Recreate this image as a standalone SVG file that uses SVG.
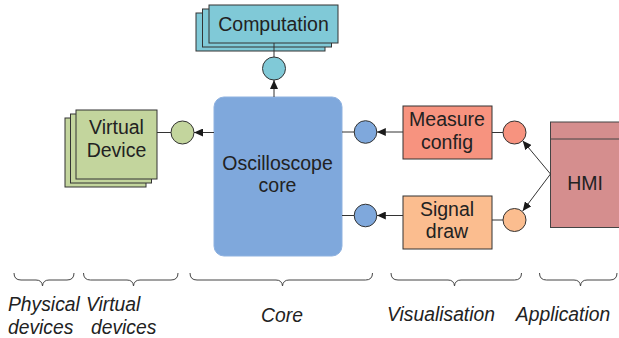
<svg xmlns="http://www.w3.org/2000/svg" width="619" height="338" viewBox="0 0 619 338">
<defs>
<marker id="ah" markerWidth="9" markerHeight="8" refX="9" refY="4" orient="auto" markerUnits="userSpaceOnUse">
<path d="M0,0 L9,4 L0,8 z" fill="#1a1a1a"/>
</marker>
<style>
.box{stroke:#333;stroke-width:1}
.lbl{font-family:"Liberation Sans",Arial,sans-serif;font-size:19.5px;fill:#222;text-anchor:middle}
.cap{font-family:"Liberation Sans",Arial,sans-serif;font-size:19.3px;font-style:italic;fill:#222}
.ln{stroke:#333;stroke-width:1;fill:none}
.br{stroke:#444;stroke-width:1;fill:none}
.cy{fill:#80c9d7}
.gr{fill:#c3d59d}
.bl{fill:#7fa8dc}
.rd{fill:#f7937f}
.or{fill:#fbbd8f}
</style>
</defs>
<rect width="619" height="338" fill="#fff"/>

<g id="computation">
<rect class="box cy" x="196" y="13" width="129" height="38"/>
<rect class="box cy" x="202.5" y="9" width="129" height="38"/>
<rect class="box cy" x="209" y="5" width="129" height="38"/>
<text class="lbl" x="273.5" y="31" font-size="20">Computation</text>
</g>
<g id="computation-port"><circle class="box cy" cx="274" cy="68.5" r="11.5"/></g>

<g id="virtual-device">
<rect class="box gr" x="65" y="118" width="81" height="69"/>
<rect class="box gr" x="70.5" y="114" width="81" height="69"/>
<rect class="box gr" x="76" y="110" width="81" height="69"/>
<text class="lbl" x="116.5" y="134">Virtual</text>
<text class="lbl" x="116.5" y="157">Device</text>
</g>
<g id="virtual-port"><circle class="box gr" cx="182.5" cy="132.5" r="11.5"/></g>

<g id="core">
<rect x="214" y="97" width="128" height="159" rx="10" ry="10" fill="#7fa8dc" stroke="#8fb2e0" stroke-width="1"/>
<text class="lbl" x="277.5" y="170">Oscilloscope</text>
<text class="lbl" x="277.5" y="192">core</text>
</g>
<g id="core-port-1"><circle class="box bl" cx="365.5" cy="132" r="11.3"/></g>
<g id="core-port-2"><circle class="box bl" cx="365.5" cy="215.5" r="11.3"/></g>

<g id="measure-config">
<rect class="box rd" x="403" y="106" width="89" height="53"/>
<text class="lbl" x="447" y="126">Measure</text>
<text class="lbl" x="447" y="148.5">config</text>
</g>
<g id="measure-port"><circle class="box rd" cx="514.5" cy="132.5" r="11.5"/></g>

<g id="signal-draw">
<rect class="box or" x="403" y="196" width="89" height="53"/>
<text class="lbl" x="447" y="215.5">Signal</text>
<text class="lbl" x="447" y="238">draw</text>
</g>
<g id="signal-port"><circle class="box or" cx="514.5" cy="220" r="11.5"/></g>

<g id="hmi">
<rect x="550.5" y="122" width="80" height="105.5" fill="#d58e8e" stroke="#444" stroke-width="1"/>
<line x1="550.5" y1="139" x2="619" y2="139" stroke="#444" stroke-width="1"/>
<text class="lbl" x="585" y="189.5" font-size="17.5">HMI</text>
</g>

<g id="connectors">
<line class="ln" x1="274" y1="43" x2="274" y2="57"/>
<line class="ln" x1="274" y1="97" x2="274" y2="80" marker-end="url(#ah)"/>
<line class="ln" x1="157" y1="132.5" x2="171" y2="132.5"/>
<line class="ln" x1="214" y1="132.5" x2="194" y2="132.5" marker-end="url(#ah)"/>
<line class="ln" x1="342" y1="132" x2="354.2" y2="132"/>
<line class="ln" x1="403" y1="132" x2="376.8" y2="132" marker-end="url(#ah)"/>
<line class="ln" x1="342" y1="215.5" x2="354.2" y2="215.5"/>
<line class="ln" x1="403" y1="215.5" x2="376.8" y2="215.5" marker-end="url(#ah)"/>
<line class="ln" x1="492" y1="132.5" x2="503" y2="132.5"/>
<line class="ln" x1="492" y1="220" x2="503" y2="220"/>
<line class="ln" x1="550.5" y1="174" x2="522.7" y2="140.7" marker-end="url(#ah)"/>
<line class="ln" x1="550.5" y1="174" x2="522.7" y2="211" marker-end="url(#ah)"/>
</g>

<g id="braces">
<path class="br" d="M14,273 Q14,280 21,280 L36,280 Q42,280 42.5,286 Q43,280 49,280 L67,280 Q74,280 74,273"/>
<path class="br" d="M83.5,273 Q83.5,280 90.5,280 L127,280 Q133,280 133.5,286 Q134,280 140,280 L171,280 Q178,280 178,273"/>
<path class="br" d="M190,273 Q190,280 197,280 L276,280 Q282,280 282.5,286 Q283,280 289,280 L365.5,280 Q372.5,280 372.5,273"/>
<path class="br" d="M391,273 Q391,280 398,280 L448,280 Q454,280 454.5,286 Q455,280 461,280 L514.5,280 Q521.5,280 521.5,273"/>
<path class="br" d="M539.5,273 Q539.5,280 546.5,280 L574,280 Q580,280 580.5,286 Q581,280 587,280 L610,280 Q617,280 617,273"/>
</g>

<g id="captions">
<text class="cap" x="8" y="311">Physical</text>
<text class="cap" x="8" y="334">devices</text>
<text class="cap" x="86" y="311">Virtual</text>
<text class="cap" x="91" y="334">devices</text>
<text class="cap" x="282" y="322" text-anchor="middle">Core</text>
<text class="cap" x="441" y="321" text-anchor="middle">Visualisation</text>
<text class="cap" x="563" y="321" text-anchor="middle">Application</text>
</g>
</svg>
